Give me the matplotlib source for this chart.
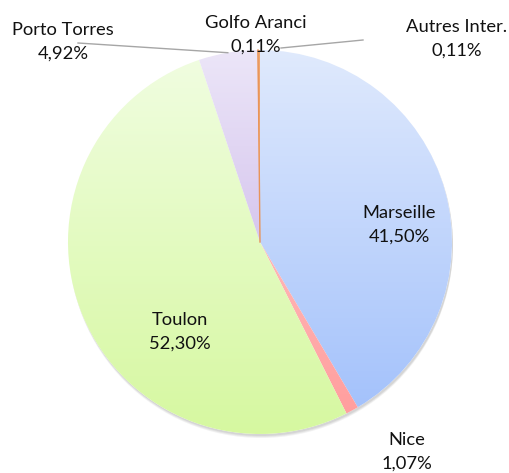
import numpy as np
import matplotlib
matplotlib.use("Agg")
import matplotlib.pyplot as plt
from matplotlib.colors import LinearSegmentedColormap
from matplotlib.patches import Circle

plt.rcParams['font.family'] = ['Lato', 'DejaVu Sans']

# parts de trafic par port
ports = ['Marseille', 'Nice', 'Toulon', 'Porto Torres', 'Golfo Aranci', 'Autres Inter.']
parts = [41.50, 1.07, 52.30, 4.92, 0.11, 0.11]
etiquettes = ['41,50%', '1,07%', '52,30%', '4,92%', '0,11%', '0,11%']

# degradés haut -> bas pour chaque part
degrades = [
    ('#e0eafd', '#a4c2fb'),
    ('#ffb8b8', '#ff9e9e'),
    ('#f0fde0', '#d6f8a0'),
    ('#ece6f8', '#d6c6ee'),
    ('#f0a870', '#e8945a'),
    ('#f0a870', '#e8945a'),
]

fig = plt.figure(figsize=(5.09, 4.73), dpi=100)
ax = fig.add_axes([0, 0, 1, 1])

cx, cy, r = 260, 231, 192

# ombre sous le camembert
for k, a in [(4, 0.10), (3, 0.12), (2, 0.15)]:
    ax.add_patch(Circle((cx + 1, cy - k), r, color='#808080', alpha=a, lw=0, zorder=0))
ax.add_patch(Circle((cx, cy), r, color='white', lw=0, zorder=0.5))

wedges, _ = ax.pie(parts, center=(cx, cy), radius=r, startangle=90,
                   counterclock=False, frame=True)

grad = np.linspace(0, 1, 256).reshape(-1, 1)
for w, (haut, bas) in zip(wedges, degrades):
    w.set_facecolor('none')
    w.set_edgecolor('none')
    cmap = LinearSegmentedColormap.from_list('g', [haut, bas])
    bb = w.get_path().get_extents(w.get_transform() - ax.transData)
    im = ax.imshow(grad, cmap=cmap, extent=[bb.x0 - 1, bb.x1 + 1, bb.y0 - 1, bb.y1 + 1],
                   origin='upper', aspect='auto', zorder=1)
    im.set_clip_path(w)

ax.set_xlim(0, 509)
ax.set_ylim(0, 473)
ax.set_aspect('equal')
ax.axis('off')

# trait orange visible pour les petites parts
ang = 90 - 360 * (sum(parts[:4]) + parts[4] / 2) / sum(parts)
ax.plot([cx, cx + r * np.cos(np.radians(ang))], [cy, cy + r * np.sin(np.radians(ang))],
        color='#e8945a', lw=1.0, zorder=2)

fs = 13.2
def label(x, y, nom, val):
    ax.text(x, 473 - y, nom, ha='center', va='center', fontsize=fs, color='#111111', zorder=5)
    ax.text(x, 473 - y - 24, val, ha='center', va='center', fontsize=fs, color='#111111', zorder=5)

pos = [(399, 213), (407, 440), (180, 320), (63, 30), (256, 23), (457, 27)]
for (x, y), nom, val in zip(pos, ports, etiquettes):
    label(x, y, nom, val)

# lignes de rappel
ang_pt = 90 - 360 * (sum(parts[:3]) + parts[3] / 2) / sum(parts)
ax.plot([78, cx + r * np.cos(np.radians(ang_pt))], [473 - 43, cy + r * np.sin(np.radians(ang_pt))],
        color='#a6a6a6', lw=1, zorder=3)
ax.plot([281, 363], [473 - 48, 473 - 40], color='#a6a6a6', lw=1, zorder=3)

fig.savefig('out.png', dpi=100)
